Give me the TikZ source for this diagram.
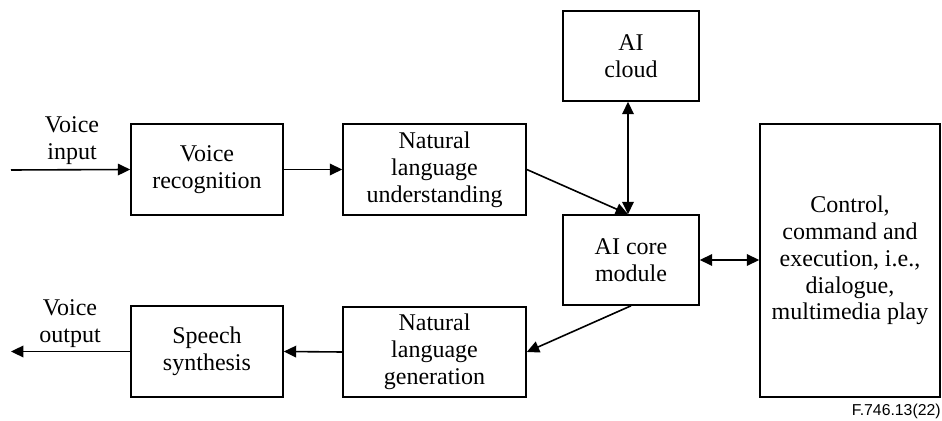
\documentclass[tikz,border=0pt]{standalone}
\usepackage{fontspec}
\setmainfont{Liberation Serif}
\newfontfamily\figsans{Liberation Sans}
\usetikzlibrary{arrows.meta}
\begin{document}
\begin{tikzpicture}[x=0.5pt,y=-0.5pt,
  blk/.style={draw,line width=0.8pt,rectangle,inner sep=0pt,align=center,
    font=\fontsize{12}{13.4}\selectfont},
  lbl/.style={align=center,inner sep=0pt,font=\fontsize{12}{13.4}\selectfont},
  tip/.style={Triangle[length=6.2pt,width=5.8pt]},
  flow/.style={line width=0.8pt,-{Triangle[length=6.2pt,width=5.8pt]}},
  both/.style={line width=0.8pt,{Triangle[length=6.2pt,width=5.8pt]}-{Triangle[length=6.2pt,width=5.8pt]}}]
\useasboundingbox (0,0) rectangle (942,421);
% processing blocks
\node[blk,minimum width=76pt,minimum height=45.5pt] (vr) at (207,169.5) {Voice\\recognition};
\node[blk,minimum width=91.5pt,minimum height=45.5pt] (nlu) at (434.5,169.5) {Natural\\language\\understanding};
\node[blk,minimum width=68pt,minimum height=45pt] (cloud) at (631,56) {AI\\cloud};
\node[blk,minimum width=68pt,minimum height=45pt] (core) at (631,260) {AI core\\module};
\node[blk,minimum width=90pt,minimum height=136.5pt] (ctrl) at (850,260.5) {Control,\\command and\\execution, i.e.,\\dialogue,\\multimedia play};
\node[blk,minimum width=76pt,minimum height=45.5pt] (ss) at (207,351.5) {Speech\\synthesis};
\node[blk,minimum width=91.5pt,minimum height=45pt] (nlg) at (434.5,352) {Natural\\language\\generation};
% free ends and labels
\coordinate (in) at (11,170);
\coordinate (out) at (11,351.5);
\node[lbl] (inlbl) at (72,141) {Voice\\input};
\node[lbl] (outlbl) at (70,324) {Voice\\output};
\node[anchor=east,inner sep=0pt,font=\figsans\fontsize{7.9}{9}\selectfont] (ref) at (941,411) {F.746.13(22)};
% connectors
\draw[flow] (in) -- (vr.west);
\draw[flow] (vr) -- (nlu);
\draw[flow] (nlu.east) -- ([xshift=-1.5pt]core.north);
\draw[both] ([xshift=-1.5pt]cloud.south) -- ([xshift=-1.5pt]core.north);
\draw[both] (core.east) -- (core.east -| ctrl.west);
\draw[flow] (core.south) -- (nlg.east);
\draw[flow] (nlg.west) -- (ss.east);
\draw[flow] (ss.west) -- (out);
\end{tikzpicture}
\end{document}
